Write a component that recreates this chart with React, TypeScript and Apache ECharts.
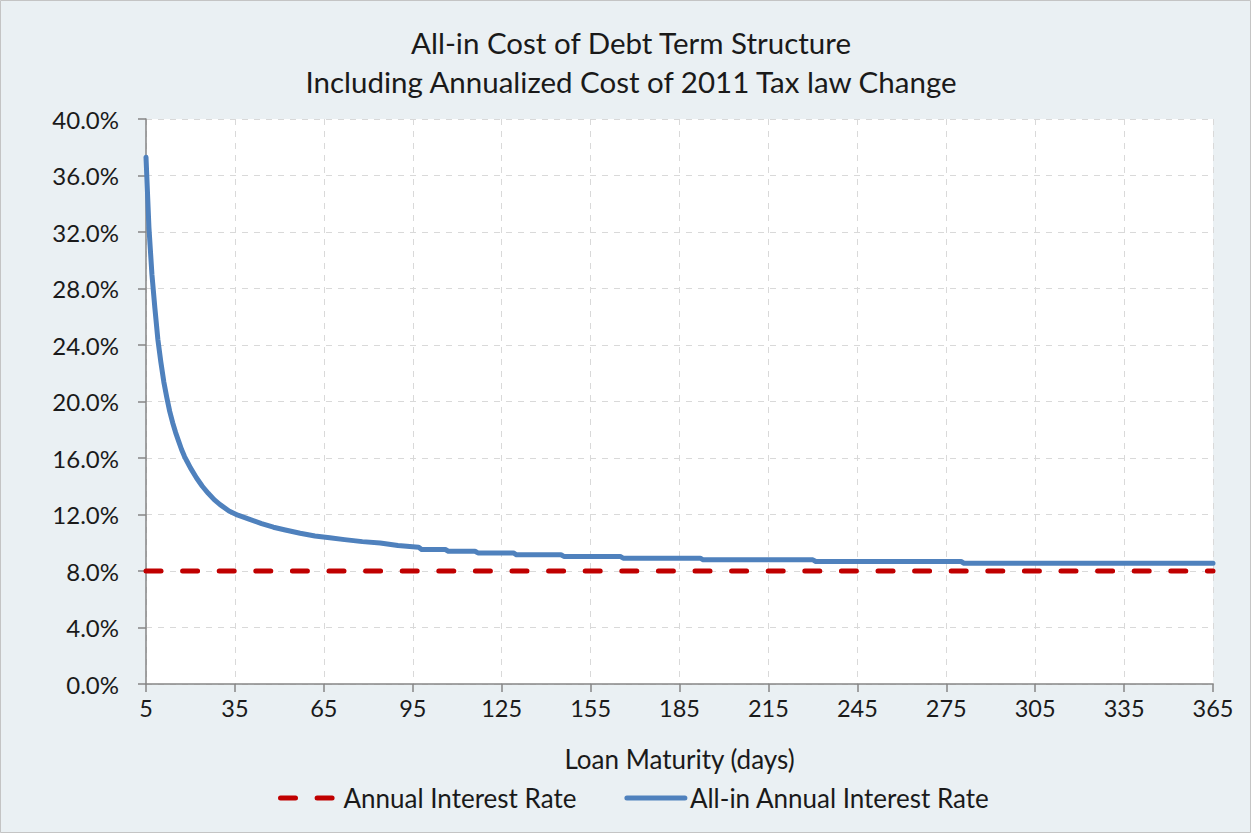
import React, { useEffect, useRef } from "react";
import * as echarts from "echarts";

const titleLines = ["All-in Cost of Debt Term Structure", "Including Annualized Cost of 2011 Tax law Change"];
const xAxisName = "Loan Maturity (days)";
const seriesNames = ["Annual Interest Rate", "All-in Annual Interest Rate"];

const dayMin = 5;
const dayMax = 365;
const dayStep = 30;
const yMax = 40;
const yStep = 4;

const annualRateDays = [5, 365];
const annualRateValues = [8.0, 8.0];

const allInDays = [
  5, 6, 7, 8, 9, 10, 11, 12, 13, 14, 15, 16, 17, 18, 19, 20, 22, 24, 26, 28, 30, 33, 36, 40, 44, 48, 52, 57, 62,
  67, 72, 78, 84, 90, 97, 98, 106, 107, 116, 117, 129, 130, 145, 146, 165, 166, 192, 193, 230, 231, 280, 281, 365,
];
const allInValues = [
  37.3, 32.3, 29.0, 26.6, 24.4, 22.8, 21.4, 20.3, 19.3, 18.5, 17.8, 17.2, 16.6, 16.1, 15.7, 15.3, 14.6, 14.0, 13.5,
  13.05, 12.7, 12.25, 11.95, 11.65, 11.35, 11.1, 10.9, 10.67, 10.48, 10.35, 10.22, 10.08, 9.98, 9.8, 9.68, 9.52, 9.52,
  9.4, 9.4, 9.28, 9.28, 9.15, 9.15, 9.03, 9.03, 8.91, 8.91, 8.79, 8.79, 8.67, 8.67, 8.55, 8.55,
];

const FONT = "Lato, 'Open Sans', sans-serif";
const TEXT = "#1a1a1a";

export default function App() {
  const ref = useRef<HTMLDivElement>(null);
  useEffect(() => {
    document.body.style.margin = "0";
    if (!ref.current) return;
    const chart = echarts.init(ref.current, undefined, { renderer: "svg" });
    const toPts = (xs: number[], ys: number[]) => xs.map((d, i) => [d - dayMin, ys[i]]);
    chart.setOption({
      animation: false,
      backgroundColor: "#EAF0F3",
      textStyle: { fontFamily: FONT, color: TEXT },
      title: {
        text: titleLines.join("\n"),
        left: 626,
        textAlign: "center",
        top: 18,
        textStyle: { fontFamily: FONT, fontSize: 29.5, fontWeight: "normal", color: TEXT, lineHeight: 39 },
      },
      graphic: [
        {
          type: "rect",
          shape: { x: 0.5, y: 0.5, width: 1250, height: 832 },
          style: { fill: "none", stroke: "#C4C4C4", lineWidth: 1 },
          silent: true,
        },
      ],
      grid: { left: 146, right: 38, top: 119, bottom: 149, show: true, backgroundColor: "#FFFFFF", borderWidth: 0 },
      legend: {
        left: 278,
        top: 785,
        padding: 0,
        itemGap: 48,
        itemWidth: 58,
        itemHeight: 14,
        itemStyle: { opacity: 0 },
        lineStyle: { width: 5, cap: "round" },
        textStyle: { fontFamily: FONT, fontSize: 26, color: TEXT },
        data: seriesNames,
      },
      xAxis: {
        type: "value",
        min: 0,
        max: dayMax - dayMin,
        interval: dayStep,
        name: xAxisName,
        nameLocation: "middle",
        nameGap: 62,
        nameTextStyle: { fontFamily: FONT, fontSize: 26, color: TEXT },
        axisLine: { lineStyle: { color: "#868686", width: 1.5 } },
        axisTick: { show: true, length: 8, lineStyle: { color: "#868686", width: 1.5 } },
        axisLabel: {
          fontFamily: FONT,
          fontSize: 23.5,
          color: TEXT,
          margin: 12,
          formatter: (v: number) => String(v + dayMin),
        },
        splitLine: { show: true, lineStyle: { color: "#D9D9D9", type: [6, 6], width: 1 } },
      },
      yAxis: {
        type: "value",
        min: 0,
        max: yMax,
        interval: yStep,
        axisLine: { show: true, lineStyle: { color: "#868686", width: 1.5 } },
        axisTick: { show: true, length: 8, lineStyle: { color: "#868686", width: 1.5 } },
        axisLabel: {
          fontFamily: FONT,
          fontSize: 24,
          color: TEXT,
          margin: 27,
          formatter: (v: number) => v.toFixed(1) + "%",
        },
        splitLine: { show: true, lineStyle: { color: "#D9D9D9", type: [6, 6], width: 1 } },
      },
      series: [
        {
          name: seriesNames[0],
          type: "line",
          data: toPts(annualRateDays, annualRateValues),
          symbol: "none",
          lineStyle: { color: "#C00000", width: 5, type: [15, 21.6], cap: "round" },
          itemStyle: { color: "#C00000" },
          z: 2,
        },
        {
          name: seriesNames[1],
          type: "line",
          data: toPts(allInDays, allInValues),
          symbol: "none",
          lineStyle: { color: "#4F81BD", width: 5, cap: "round", join: "round" },
          itemStyle: { color: "#4F81BD" },
          z: 3,
        },
      ],
    });
    return () => chart.dispose();
  }, []);
  return <div ref={ref} style={{ width: 1251, height: 833 }} />;
}
